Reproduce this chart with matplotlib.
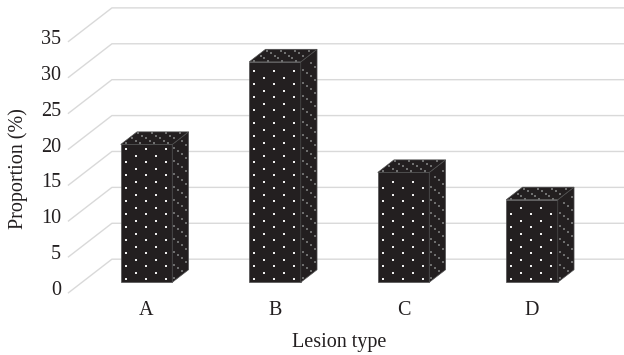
import numpy as np
import matplotlib
matplotlib.use("Agg")
import matplotlib.pyplot as plt
from matplotlib.patches import Polygon

plt.rcParams.update({"font.family": ["Liberation Serif", "DejaVu Serif"]})

categories = ["A", "B", "C", "D"]
proportion = [19.2, 30.7, 15.3, 11.5]
yticks = [0, 5, 10, 15, 20, 25, 30, 35]
xlabel = "Lesion type"
ylabel = "Proportion (%)"

# pseudo-3D layout: one x unit per category, one y unit per percent
PX_X = 1 / 128.5
PX_Y = 1 / 7.18
XMIN = -146.5 * PX_X
XMAX = XMIN + 624 * PX_X
YMIN = -(355 - 282.3) * PX_Y
YMAX = YMIN + 355 * PX_Y

DEPTH = np.array([44 * PX_X, 34 * PX_Y])   # floor depth (oblique)
FRONT_D, WALL_D, BAR_D = -0.32, 0.68, 0.37
BAR_W = 51.5 * PX_X
GRID_X0 = -64.5 * PX_X

INK = "#231f20"
BAR_FACE = "#231f20"
GRID = "#d9d9d9"
FS = 14.5


def face(ax, p0, u, v, z):
    p0, u, v = map(np.asarray, (p0, u, v))
    poly = Polygon([p0, p0 + u, p0 + u + v, p0 + v], closed=True,
                   facecolor=BAR_FACE, edgecolor="#505050", lw=0.5, zorder=z)
    ax.add_patch(poly)
    return poly


def dots(ax, p0, u, v, step_u, step_v, color, size, z):
    p0, u, v = map(np.asarray, (p0, u, v))
    lu = np.hypot(u[0] / PX_X, u[1] / PX_Y)
    lv = np.hypot(v[0] / PX_X, v[1] / PX_Y)
    nu, nv = int(lu // step_u), int(lv // step_v)
    s, t = [], []
    for j in range(nv):
        for k in range(nu):
            if (j + k) % 2 == 0:
                s.append((k + 0.5) * step_u / lu)
                t.append((j + 0.5) * step_v / lv)
    if not s:
        return
    s, t = np.array(s), np.array(t)
    ax.scatter(p0[0] + s * u[0] + t * v[0], p0[1] + s * u[1] + t * v[1],
               s=size, c=color, marker="s", linewidths=0, zorder=z)


fig = plt.figure(figsize=(6.24, 3.55), dpi=100)
ax = fig.add_axes([0, 0, 1, 1])
ax.set_xlim(XMIN, XMAX)
ax.set_ylim(YMIN, YMAX)
ax.axis("off")

# back wall gridlines with slanted floor-to-wall segment
for t in yticks:
    x0, y0 = GRID_X0 + FRONT_D * DEPTH[0], t + FRONT_D * DEPTH[1]
    x1, y1 = GRID_X0 + WALL_D * DEPTH[0], t + WALL_D * DEPTH[1]
    ax.plot([x0, x1, XMAX], [y0, y1, y1], color=GRID, lw=1.0, zorder=1,
            solid_capstyle="butt")
    ax.text(x0 - 7 * PX_X, y0 + 0.35, str(t), ha="right", va="center",
            fontsize=FS, color=INK)

bar_depth = BAR_D * DEPTH
for i, val in enumerate(proportion):
    left, right = i - BAR_W / 2, i + BAR_W / 2
    # front
    face(ax, (left, 0), (BAR_W, 0), (0, val), 3)
    dots(ax, (left, 0), (BAR_W, 0), (0, val), 10, 6.5, "#eeeeee", 2.2, 4)
    # side
    face(ax, (right, 0), bar_depth, (0, val), 3)
    dots(ax, (right, 0), bar_depth, (0, val), 5, 6.5, "#6e6e6e", 1.1, 4)
    # top
    face(ax, (left, val), (BAR_W, 0), bar_depth, 3)
    dots(ax, (left, val), (BAR_W, 0), bar_depth, 7, 4, "#707070", 1.1, 4)
    ax.text(i, -4.55, categories[i], ha="center", va="baseline",
            fontsize=FS, color=INK)

ax.text(1.5, -8.97, xlabel, ha="center", va="baseline", fontsize=FS, color=INK)
ax.text(-128.5 * PX_X, 15.9, ylabel, ha="center", va="center", rotation=90,
        fontsize=FS, color=INK)

fig.savefig("out.png", dpi=100, facecolor="white")
